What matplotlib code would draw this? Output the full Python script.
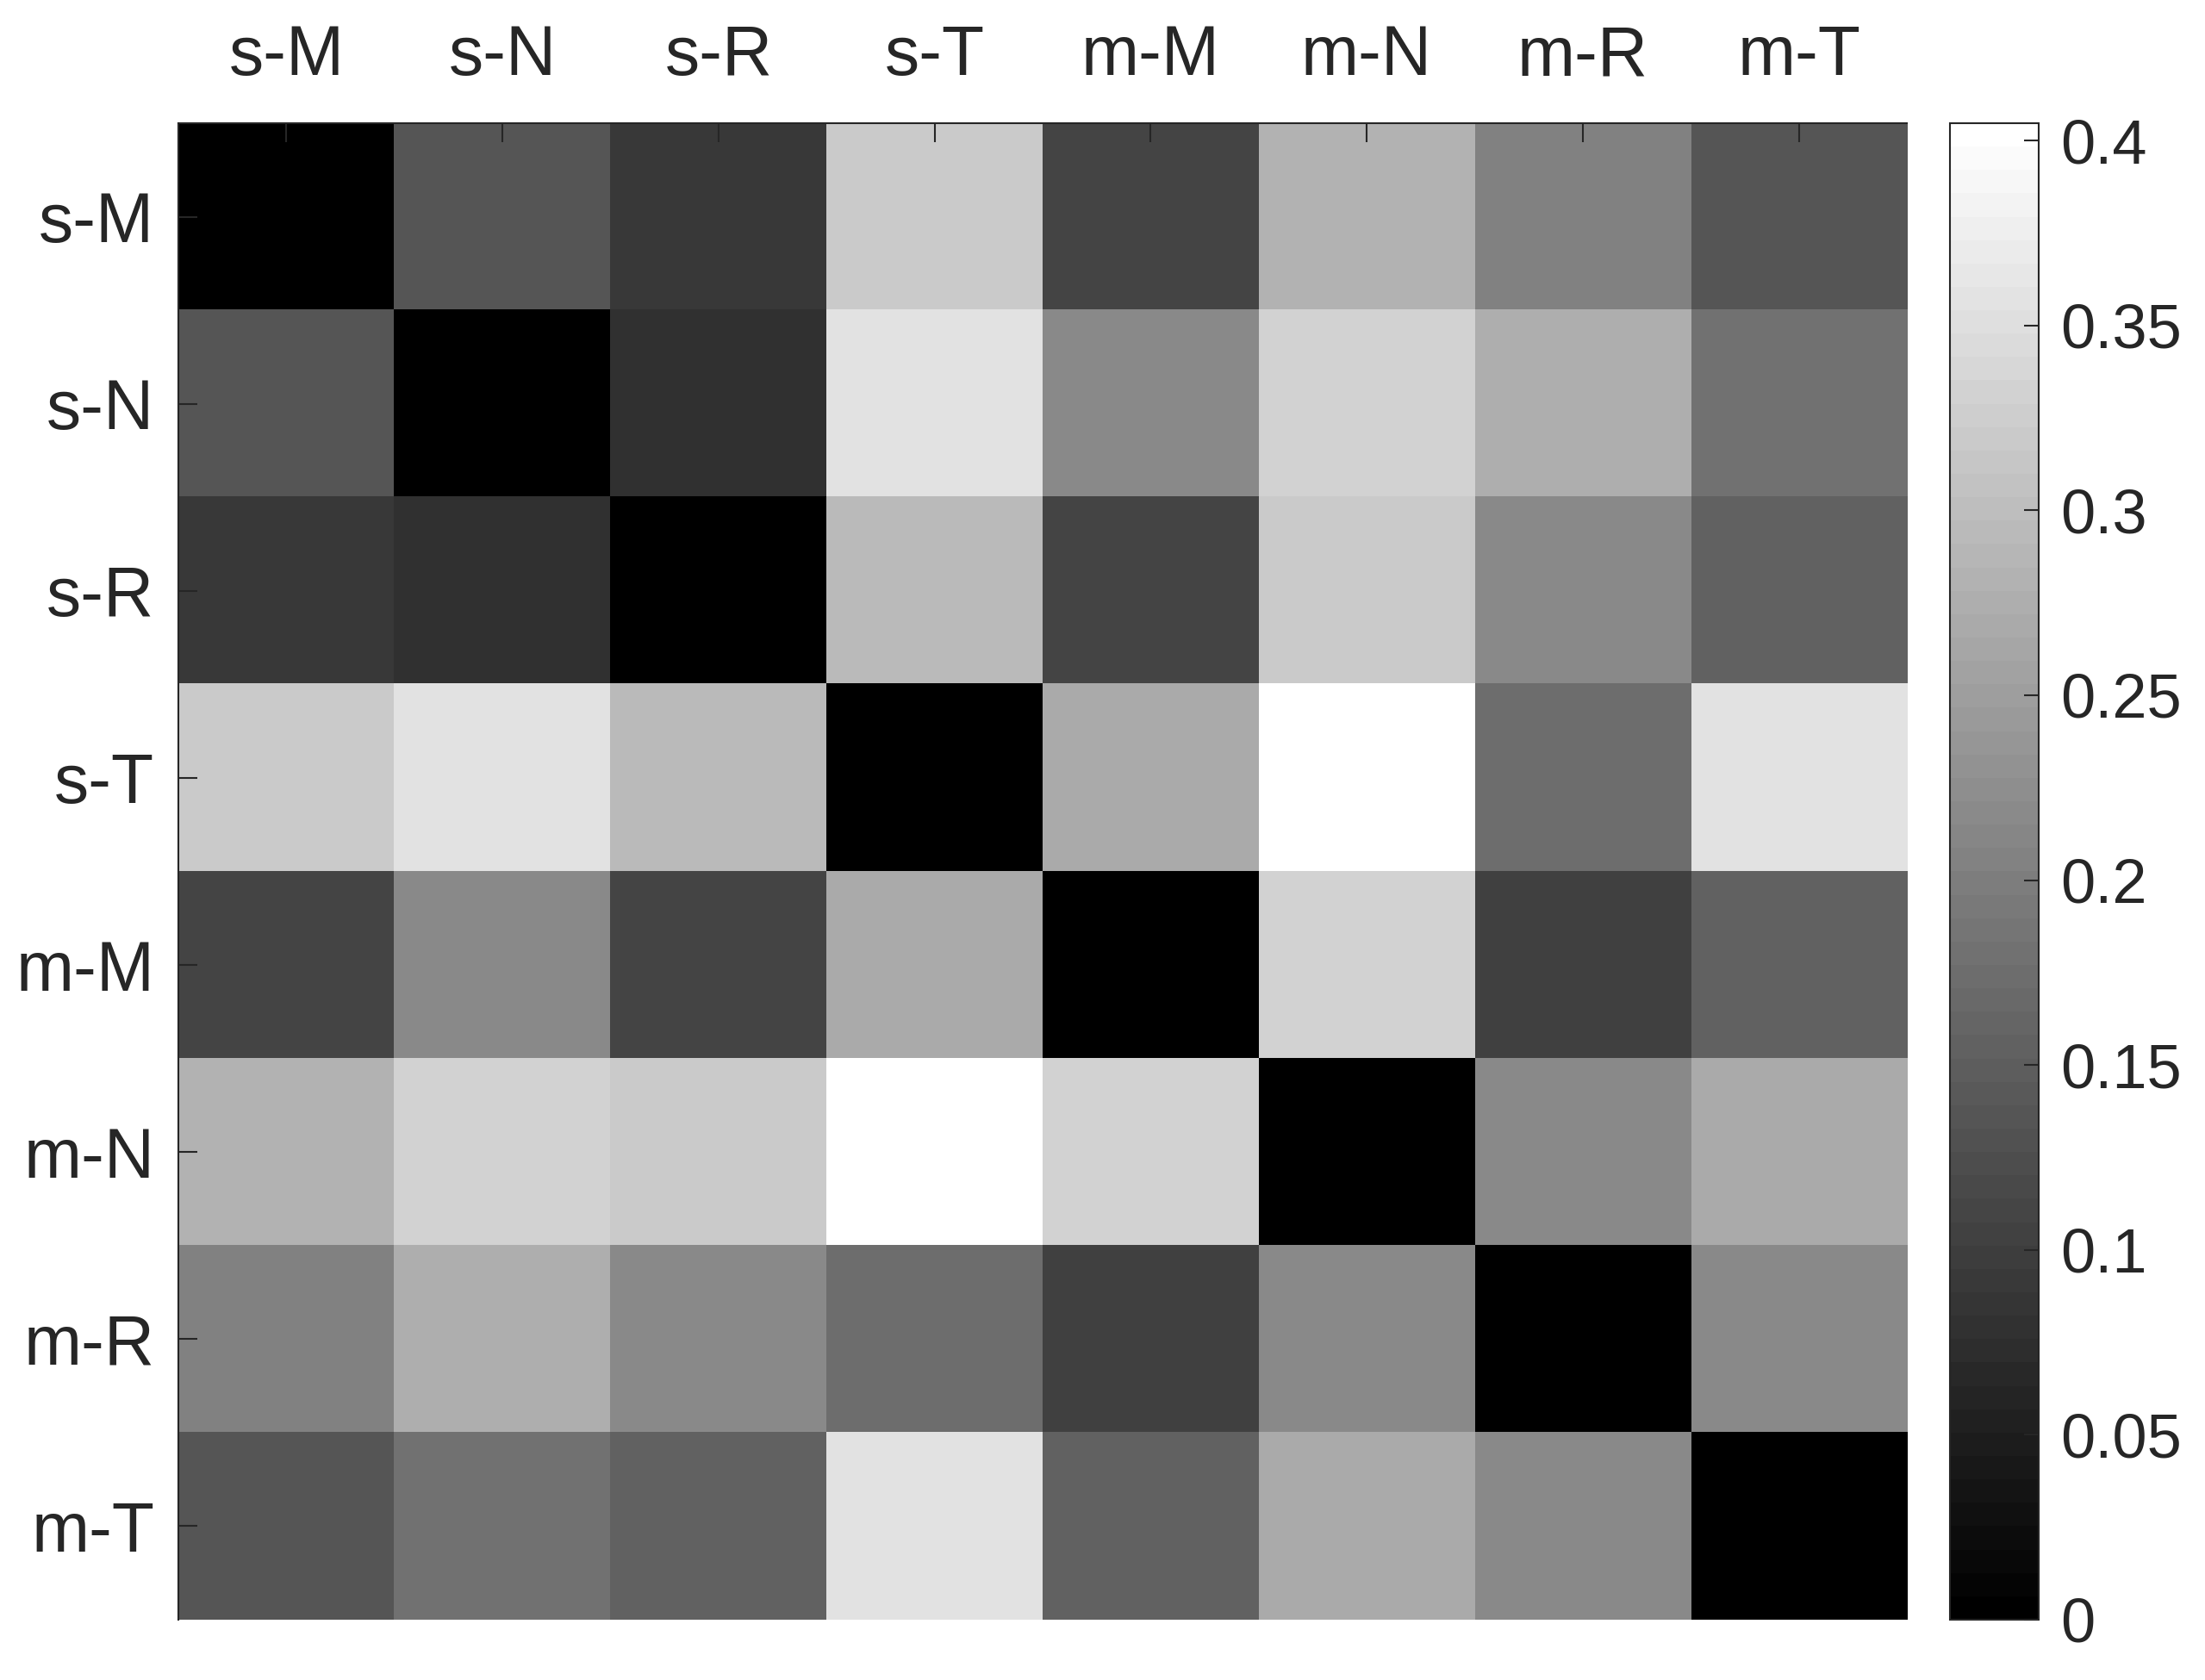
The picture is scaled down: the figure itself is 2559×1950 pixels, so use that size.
import numpy as np
import matplotlib
matplotlib.use("Agg")
import matplotlib.pyplot as plt
from matplotlib.colors import ListedColormap

plt.rcParams['font.family'] = ['Liberation Sans', 'DejaVu Sans']

# Data
labels = ["s-M", "s-N", "s-R", "s-T", "m-M", "m-N", "m-R", "m-T"]
row_sM = [0.000, 0.135, 0.092, 0.317, 0.113, 0.284, 0.203, 0.135]
row_sN = [0.135, 0.000, 0.081, 0.356, 0.219, 0.335, 0.276, 0.183]
row_sR = [0.092, 0.081, 0.000, 0.292, 0.108, 0.322, 0.216, 0.152]
row_sT = [0.317, 0.356, 0.292, 0.000, 0.267, 0.405, 0.171, 0.356]
row_mM = [0.113, 0.219, 0.108, 0.267, 0.000, 0.330, 0.102, 0.152]
row_mN = [0.284, 0.335, 0.322, 0.405, 0.330, 0.000, 0.216, 0.267]
row_mR = [0.203, 0.276, 0.216, 0.171, 0.102, 0.216, 0.000, 0.216]
row_mT = [0.135, 0.183, 0.152, 0.356, 0.152, 0.267, 0.216, 0.000]
cbar_ticks = [0, 0.05, 0.1, 0.15, 0.2, 0.25, 0.3, 0.35, 0.4]

mat = np.array([row_sM, row_sN, row_sR, row_sT, row_mM, row_mN, row_mR, row_mT])
vmax = 0.4047

# MATLAB-like gray(64)
g = np.linspace(0, 1, 64)
cmap = ListedColormap(np.column_stack([g, g, g]))

txt = '#262626'
fig = plt.figure(figsize=(25.59, 19.5), dpi=100)
ax = fig.add_axes([0.0809, 0.0359, 0.7839, 0.8908])
im = ax.imshow(mat, cmap=cmap, vmin=0, vmax=vmax, aspect='auto', interpolation='nearest')

ax.set_xticks(range(len(labels)))
ax.set_yticks(range(len(labels)))
ax.set_xticklabels(labels)
ax.set_yticklabels(labels)
ax.xaxis.tick_top()
ax.tick_params(axis='both', direction='in', length=16, width=1.5, color=txt,
               labelsize=58, labelcolor=txt)
ax.tick_params(axis='x', pad=28)
ax.tick_params(axis='y', pad=20)
for s in ['right', 'bottom']:
    ax.spines[s].set_visible(False)
for s in ['top', 'left']:
    ax.spines[s].set_color(txt)
    ax.spines[s].set_linewidth(1.5)

cax = fig.add_axes([0.8843, 0.0359, 0.0403, 0.8908])
cb = fig.colorbar(im, cax=cax, ticks=cbar_ticks)
cb.ax.set_yticklabels(["{:g}".format(t) for t in cbar_ticks])
cb.ax.tick_params(direction='in', length=12, width=1.5, color=txt,
                  labelsize=52, labelcolor=txt, pad=18)
cb.outline.set_edgecolor(txt)
cb.outline.set_linewidth(1.5)

fig.savefig("out.png", dpi=100)
